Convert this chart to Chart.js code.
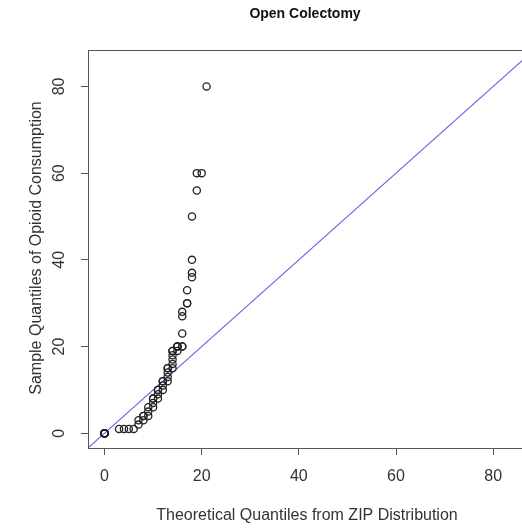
<!DOCTYPE html>
<html>
<head>
<meta charset="utf-8">
<script src="https://cdn.jsdelivr.net/npm/chart.js@4"></script>
<style>
html,body{margin:0;padding:0;background:#fff;overflow:hidden;width:522px;height:529px;}
#c{position:absolute;left:0;top:0;}
</style>
</head>
<body>
<canvas id="c" width="540" height="529"></canvas>
<script>
const chartTitle = "Open Colectomy";
const xAxisTitle = "Theoretical Quantiles from ZIP Distribution";
const yAxisTitle = "Sample Quantiles of Opioid Consumption";
const tickValues = [0, 20, 40, 60, 80];
const axisMin = -3.4;
const axisMax = 88.4;

// theoretical ZIP quantiles (x) and sample quantiles (y)
const theoretical = [0,0,0,0,0,0,0,0,0,0,
  3,4,5,6,
  7,7,8,8,8,9,9,9,10,10,10,10,11,11,11,11,12,12,12,12,
  13,13,13,13,13,14,14,14,14,14,14,15,15,15,15,16,16,
  16,16,16,17,17,17,18,18,18,18,19,19,20,21];
const sample = [0,0,0,0,0,0,0,0,0,0,
  1,1,1,1,
  2,3,3,4,4,4,5,6,6,7,8,8,8,9,10,10,10,11,12,12,
  12,13,14,15,15,15,16,17,18,19,19,19,20,20,20,20,20,
  23,27,28,30,30,33,36,37,40,50,56,60,60,80];

// reference line y = intercept + slope * x
const ablineIntercept = 0;
const ablineSlope = 1;

const points = theoretical.map((x, i) => ({x: x, y: sample[i]}));
const lineData = [axisMin - 10, axisMax + 10].map(x => ({x: x, y: ablineIntercept + ablineSlope * x}));

const FONT = '"Liberation Sans", Arial, Helvetica, sans-serif';

const rPlugin = {
  id: 'rstyle',
  afterDraw(chart) {
    const ctx = chart.ctx;
    const a = chart.chartArea;
    const xs = chart.scales.x, ys = chart.scales.y;
    ctx.save();
    ctx.strokeStyle = '#555';
    ctx.lineWidth = 1;
    ctx.strokeRect(Math.round(a.left) + 0.5, Math.round(a.top) + 0.5, Math.round(a.right - a.left), Math.round(a.bottom - a.top));
    ctx.fillStyle = '#111';
    ctx.textAlign = 'center';
    ctx.textBaseline = 'middle';
    ctx.font = 'bold 14px ' + FONT;
    ctx.fillText(chartTitle, 305, 14);
    ctx.font = '16px ' + FONT;
    ctx.fillStyle = '#333';
    tickValues.forEach(v => {
      ctx.fillText(String(v), xs.getPixelForValue(v), 477);
    });
    tickValues.forEach(v => {
      ctx.save();
      ctx.translate(60, ys.getPixelForValue(v));
      ctx.rotate(-Math.PI / 2);
      ctx.fillText(String(v), 0, 0);
      ctx.restore();
    });
    ctx.fillText(xAxisTitle, 307, 516);
    ctx.save();
    ctx.translate(37, 248);
    ctx.rotate(-Math.PI / 2);
    ctx.fillText(yAxisTitle, 0, 0);
    ctx.restore();
    ctx.restore();
  }
};

new Chart(document.getElementById('c'), {
  type: 'scatter',
  data: {
    datasets: [
      {
        type: 'line',
        data: lineData,
        borderColor: 'rgb(100,100,232)',
        borderWidth: 1.1,
        pointRadius: 0,
        fill: false,
        order: 2
      },
      {
        data: points,
        pointStyle: 'circle',
        pointRadius: 3.6,
        pointBorderWidth: 1.3,
        borderColor: '#222',
        backgroundColor: 'rgba(0,0,0,0)',
        order: 1
      }
    ]
  },
  options: {
    responsive: false,
    animation: false,
    devicePixelRatio: 1,
    layout: {padding: {top: 50, right: 6, left: 0, bottom: 0}},
    plugins: {legend: {display: false}, tooltip: {enabled: false}, title: {display: false}},
    scales: {
      x: {
        type: 'linear', min: axisMin, max: axisMax,
        afterBuildTicks: s => { s.ticks = tickValues.map(v => ({value: v})); },
        afterFit: s => { s.height = 81; },
        ticks: {display: false},
        grid: {drawOnChartArea: false, drawTicks: true, tickLength: 7, color: '#555'},
        border: {display: true, color: '#555', width: 1}
      },
      y: {
        type: 'linear', min: axisMin, max: axisMax,
        afterBuildTicks: s => { s.ticks = tickValues.map(v => ({value: v})); },
        afterFit: s => { s.width = 88; },
        ticks: {display: false},
        grid: {drawOnChartArea: false, drawTicks: true, tickLength: 7, color: '#555'},
        border: {display: true, color: '#555', width: 1}
      }
    }
  },
  plugins: [rPlugin]
});
</script>
</body>
</html>
